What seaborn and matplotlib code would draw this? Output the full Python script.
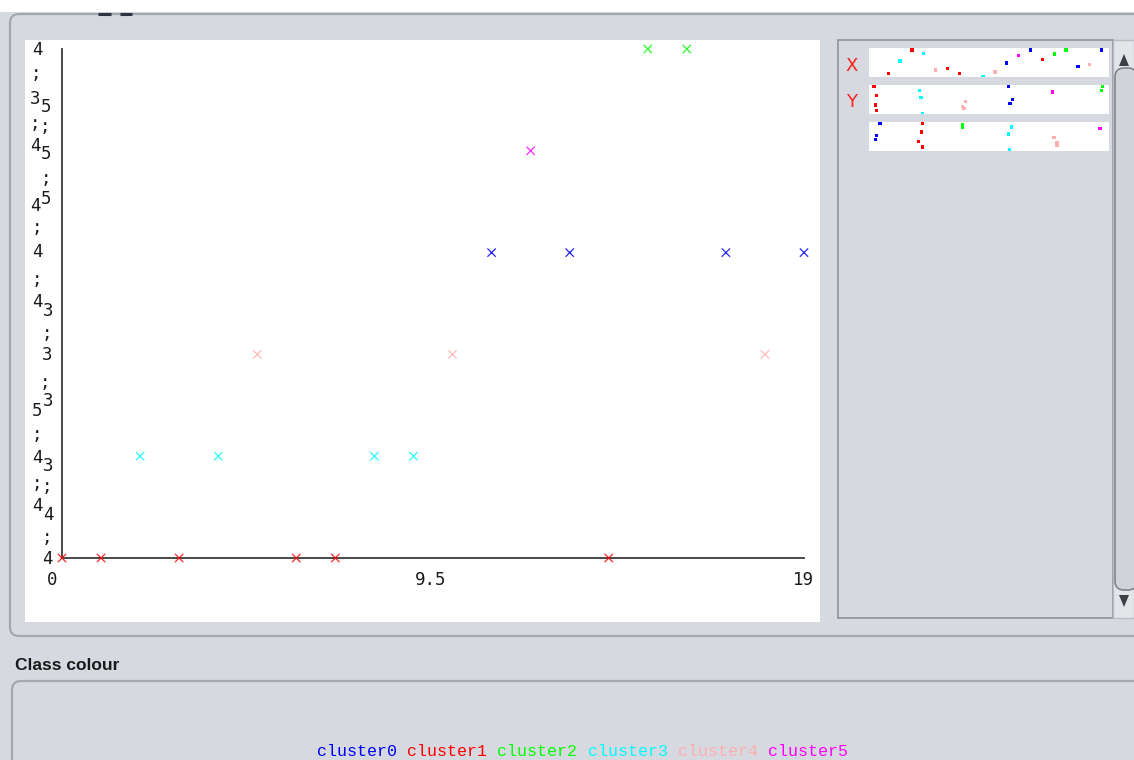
import matplotlib
matplotlib.use("Agg")
import matplotlib.pyplot as plt
from matplotlib.patches import FancyBboxPatch, Rectangle, Polygon
import pandas as pd
import seaborn as sns

W, H, DPI = 1134, 760, 100

# ---- data ---------------------------------------------------------------
instance = list(range(20))
cluster = ["cluster1", "cluster1", "cluster3", "cluster1", "cluster3",
           "cluster4", "cluster1", "cluster1", "cluster3", "cluster3",
           "cluster4", "cluster0", "cluster5", "cluster0", "cluster1",
           "cluster2", "cluster2", "cluster0", "cluster4", "cluster0"]
y_level = [0, 0, 1, 0, 1, 2, 0, 0, 1, 1, 2, 3, 4, 3, 0, 5, 5, 3, 2, 3]

cluster_names = ["cluster0", "cluster1", "cluster2", "cluster3", "cluster4", "cluster5"]
cluster_colors = ["#0000ff", "#ff0000", "#00ff00", "#00ffff", "#ffafaf", "#ff00ff"]

x_tick_values = [0, 9.5, 19]
x_tick_labels = ["0", "9.5", "19"]

# attribute strips: vertical jitter (strip pixels from top) and small horizontal jitter
strip1_jitter = [31, 25.7, 13, 2, 5.7, 22, 20.3, 25.7, 31, 28.7,
                 24, 15, 7.3, 2, 11.3, 6, 2, 18.3, 16.7, 2]
strip2_jitter = [1.7, 10.7, 5.3, 20, 12.7, 16.3, 25.3, 25.3, 28.3, 12.7,
                 21.7, 1.7, 7, 14.3, 1.7, 1.7, 5.7, 18.3, 23.7, 1.7]
strip2_xjit = [-0.03, 0.026, -0.024, -0.004, 0.004, -0.018, 0.026, 0.026, 0.033, 0.004,
               -0.075, -0.068, -0.088, 0.029, -0.03, 0.015, -0.015, -0.031, -0.046, -0.068]
strip3_jitter = [1, 10, 5, 19.3, 12, 15.7, 25, 25, 27.7, 5,
                 21, 1, 6.7, 13.7, 10, 3, 5, 17.7, 23.3, 1]
strip3_xjit = [0.042, 0.011, -0.002, -0.055, -0.068, -0.06, 0.042, 0.042, -0.038, -0.002,
               0.007, 0.099, -0.044, 0.026, 0.011, -0.075, -0.075, -0.004, 0.007, 0.099]

df = pd.DataFrame({"instance": instance, "cluster": cluster, "level": y_level})
df["cidx"] = [cluster_names.index(c) for c in cluster]
palette = dict(zip(cluster_names, cluster_colors))

# ---- figure -------------------------------------------------------------
sns.set_style("white")
plt.rcParams["font.family"] = ["DejaVu Sans"]
PANEL = "#d6d9e0"
EDGE = "#a3a7af"
fig = plt.figure(figsize=(W / DPI, H / DPI), dpi=DPI, facecolor=PANEL)


def fx(x):
    return x / W


def fy(y):
    return 1 - y / H


def px_axes(x0, y0, x1, y1, **kw):
    return fig.add_axes([fx(x0), fy(y1), (x1 - x0) / W, (y1 - y0) / H], **kw)


# background / widgets layer
bg = fig.add_axes([0, 0, 1, 1], zorder=-10)
bg.set_xlim(0, W)
bg.set_ylim(H, 0)
bg.axis("off")
bg.add_patch(Rectangle((0, 0), W, 12, color="white", lw=0))
bg.add_patch(FancyBboxPatch((10, 14), W + 20, 622, boxstyle="round,pad=0,rounding_size=9",
                            fc=PANEL, ec=EDGE, lw=1.6))
bg.add_patch(Rectangle((25, 40), 795, 582, fc="white", ec="none"))
bg.add_patch(Rectangle((838, 40), 275, 578, fc=PANEL, ec="#8e929a", lw=1.2))
bg.add_patch(FancyBboxPatch((12, 681), W + 20, 120, boxstyle="round,pad=0,rounding_size=9",
                            fc=PANEL, ec=EDGE, lw=1.6))
bg.plot([98, 111], [14, 14], color="#2e3442", lw=2.2, solid_capstyle="butt")
bg.plot([120, 132], [14, 14], color="#2e3442", lw=2.2, solid_capstyle="butt")

# scrollbar
bg.add_patch(Rectangle((1113, 40), 21, 578, fc="#e3e5e9", ec="#b9bcc3", lw=1))
bg.add_patch(FancyBboxPatch((1115, 68), 22, 522, boxstyle="round,pad=0,rounding_size=9",
                            fc="#d0d3d9", ec="#80848c", lw=1.2))
bg.add_patch(Polygon([[1119, 66], [1129, 66], [1124, 54]], closed=True, fc="#3c3f45", ec="none"))
bg.add_patch(Polygon([[1119, 595], [1129, 595], [1124, 607]], closed=True, fc="#3c3f45", ec="none"))

# ---- main scatter -------------------------------------------------------
ax = px_axes(62, 49, 804, 558)
ax.set_facecolor("none")
sns.scatterplot(data=df, x="instance", y="level", hue="cluster", palette=palette,
                marker="x", s=36, linewidth=0.9, alpha=0.85, legend=False, ax=ax,
                clip_on=False, zorder=5)
ax.set_xlim(0, 19)
ax.set_ylim(0, 5)
for side in ("top", "right"):
    ax.spines[side].set_visible(False)
for side in ("left", "bottom"):
    ax.spines[side].set_color("#3a3a3a")
    ax.spines[side].set_linewidth(1.3)
ax.set_xlabel("")
ax.set_ylabel("")
ax.set_yticks(range(6))
ax.set_yticklabels([""] * 6)
ax.set_xticks([9.5])
ax.set_xticklabels([""])
ax.tick_params(axis="both", direction="out", length=4, width=1.1, color="#3a3a3a")

MONO = "DejaVu Sans Mono"
x_label_shift = [-10, -2, -1]
for v, lab, dx in zip(x_tick_values, x_tick_labels, x_label_shift):
    ax.annotate(lab, xy=(v, 0), xycoords="data", xytext=(dx * 0.72, -22 * 0.72),
                textcoords="offset points", ha="center", va="center",
                fontsize=12.5, family=MONO, color="#1a1a1a", annotation_clip=False)

# y-axis nominal labels (drawn as stacked glyph fragments)
y_fragments = [
    ("4", 37, 50), (";", 36, 74), ("3", 35, 99), ("5", 46, 107), (";", 35, 124), (";", 45, 127),
    ("4", 35, 146), ("5", 46, 154), (";", 46, 179), ("4", 35, 206), ("5", 46, 199),
    (";", 37, 228), ("4", 37, 252), (";", 37, 280), ("4", 37, 302), ("3", 48, 311),
    (";", 47, 334), ("3", 47, 355), (";", 45, 383), ("5", 37, 411), ("3", 48, 401),
    (";", 37, 435), ("4", 37, 458), ("3", 48, 466), (";", 37, 484), (";", 47, 487),
    ("4", 37, 506), ("4", 48, 515), (";", 47, 538), ("4", 47, 559),
]
for s, x, y in y_fragments:
    fig.text(fx(x), fy(y), s, ha="center", va="center", fontsize=12.5,
             family=MONO, color="#1a1a1a")

# ---- attribute strips ---------------------------------------------------
strip_specs = [
    (48, df["instance"], [0] * 20, strip1_jitter, (-0.62, 19.62)),
    (85, df["level"], strip2_xjit, strip2_jitter, (-0.143, 5.155)),
    (122, df["cidx"], strip3_xjit, strip3_jitter, (-0.143, 5.155)),
]
for top, xv, xj, yj, xlim in strip_specs:
    sax = px_axes(869, top, 1109, top + 29)
    sdf = pd.DataFrame({"x": [a + b for a, b in zip(xv, xj)], "y": yj, "cluster": cluster})
    sns.scatterplot(data=sdf, x="x", y="y", hue="cluster", palette=palette, marker="s",
                    s=5.5, linewidth=0, legend=False, ax=sax)
    sax.set_xlim(*xlim)
    sax.set_ylim(29, 0)
    sax.set_facecolor("white")
    sax.set_xticks([])
    sax.set_yticks([])
    sax.set_xlabel("")
    sax.set_ylabel("")
    for sp in sax.spines.values():
        sp.set_visible(False)

fig.text(fx(852), fy(66), "X", ha="center", va="center", fontsize=13, color="#ff2020")
fig.text(fx(852), fy(102), "Y", ha="center", va="center", fontsize=13, color="#ff2020")

# ---- class colour legend ------------------------------------------------
fig.text(fx(15), fy(665), "Class colour", ha="left", va="center", fontsize=12.5,
         family=["Liberation Sans Narrow", "Liberation Sans"], weight="bold", color="#1a1a1a")
legend_x = [317, 407, 497, 588, 678, 768]
for name, col, x in zip(cluster_names, cluster_colors, legend_x):
    fig.text(fx(x), fy(752), name, ha="left", va="center", fontsize=12,
             family="Liberation Mono", color=col)

fig.savefig("out.png", dpi=DPI, facecolor=PANEL)
